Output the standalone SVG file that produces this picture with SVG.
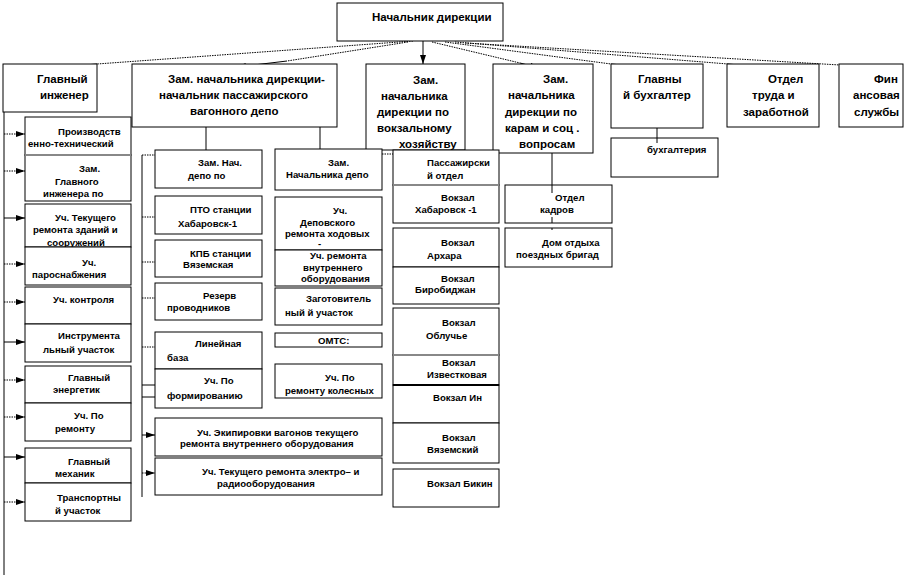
<svg xmlns="http://www.w3.org/2000/svg" width="912" height="575" viewBox="0 0 912 575">
<style>
.b{fill:#fff;stroke:#000;stroke-width:1}
.t{font-family:"Liberation Sans",Arial,sans-serif;font-weight:bold;font-size:9.6px;fill:#000}
.T{font-size:11.5px}
.s{stroke:#000;stroke-width:1;fill:none}
.d{stroke:#000;stroke-width:1;fill:none;stroke-dasharray:1.5,1}
.g{stroke:#888;stroke-width:2}
</style>
<defs>
<marker id="ah" markerUnits="userSpaceOnUse" markerWidth="9" markerHeight="6" refX="9" refY="3" orient="auto">
<path d="M0,0 L9,3 L0,6 z" fill="#000"/>
</marker>
<clipPath id="cC"><rect x="25" y="204" width="106" height="43"/></clipPath>
<clipPath id="cV"><rect x="275" y="250" width="107" height="36"/></clipPath>
<clipPath id="cD"><rect x="275" y="197" width="107" height="53"/></clipPath>
<clipPath id="cZ"><rect x="366" y="64" width="99" height="86"/></clipPath>
</defs>
<rect width="912" height="575" fill="#fff"/>

<g id="connectors">
<path class="d" d="M413,41 L97,64"/><path class="s" d="M97,64 L47,68" marker-end="url(#ah)"/>
<path class="d" d="M408,42 L287,61"/><path class="s" d="M287,61 L237,67" marker-end="url(#ah)"/>
<path class="s" d="M423,41 L423,64" marker-end="url(#ah)"/>
<path class="d" d="M432,42 L520,63"/><path class="s" d="M520,63 L539,68" marker-end="url(#ah)"/>
<path class="d" d="M445,42 L611,64"/><path class="s" d="M611,64 L656,68" marker-end="url(#ah)"/>
<path class="d" d="M455,42 L728,64"/><path class="s" d="M728,64 L773,68" marker-end="url(#ah)"/>
<path class="d" d="M465,43 L840,65"/><path class="s" d="M840,65 L874,69" marker-end="url(#ah)"/>
<path class="s" d="M4,112 V575"/>
<path class="d" d="M4,134 H25" marker-end="url(#ah)"/>
<path class="d" d="M4,171 H25" marker-end="url(#ah)"/>
<path class="s" d="M4,218 H25" marker-end="url(#ah)"/>
<path class="d" d="M4,264 H25" marker-end="url(#ah)"/>
<path class="d" d="M4,302 H25" marker-end="url(#ah)"/>
<path class="s" d="M4,342 H25" marker-end="url(#ah)"/>
<path class="d" d="M4,380 H25" marker-end="url(#ah)"/>
<path class="d" d="M4,417 H25" marker-end="url(#ah)"/>
<path class="s" d="M4,457 H25" marker-end="url(#ah)"/>
<path class="d" d="M4,502 H25" marker-end="url(#ah)"/>
<path class="s" d="M142,155 V497"/>
<path class="d" d="M142,155 H155"/>
<path class="d" d="M142,217 H155"/>
<path class="d" d="M142,262 H155"/>
<path class="d" d="M142,298 H155"/>
<path class="d" d="M142,347 H155"/>
<path class="s" d="M142,385 H155"/>
<path class="s" d="M142,397 H155"/>
<path class="s" d="M142,435 H155" marker-end="url(#ah)"/>
<path class="d" d="M142,473 H155" marker-end="url(#ah)"/>
<path class="s" d="M206,117 V155"/>
<path class="s" d="M320,117 V155"/>
<path class="d" d="M382,154 H393"/>
<path class="s" d="M434,138 V150"/>
<path class="s" d="M552,107 V193"/>
<path class="s" d="M657,117 V143"/>
</g>

<g id="n-top"><rect class="b" x="337" y="3" width="166" height="38"/><text class="t T" x="372" y="21">Начальник дирекции</text></g>
<g id="n-gi"><rect class="b" x="3" y="64" width="94" height="48"/><text class="t T" x="37" y="83">Главный</text><text class="t T" x="40" y="99">инженер</text></g>
<g id="n-zd"><rect class="b" x="132" y="64" width="205" height="63"/><text class="t T" x="168" y="83">Зам. начальника дирекции-</text><text class="t T" x="159" y="99">начальник пассажирского</text><text class="t T" x="190" y="115">вагонного депо</text></g>
<g id="n-zv"><rect class="b" x="366" y="64" width="99" height="86"/><g clip-path="url(#cZ)"><text class="t T" x="413" y="84">Зам.</text><text class="t T" x="381" y="100">начальника</text><text class="t T" x="377" y="116">дирекции по</text><text class="t T" x="377" y="132">вокзальному</text><text class="t T" x="399" y="148">хозяйству</text></g></g>
<g id="n-zk"><rect class="b" x="493" y="64" width="100" height="89"/><text class="t T" x="543" y="83">Зам.</text><text class="t T" x="508" y="99">начальника</text><text class="t T" x="505" y="116">дирекции  по</text><text class="t T" x="505" y="132">карам и соц .</text><text class="t T" x="519" y="148">вопросам</text></g>
<g id="n-gb"><rect class="b" x="611" y="64" width="92" height="64"/><text class="t T" x="638" y="83">Главны</text><text class="t T" x="623" y="99">й бухгалтер</text></g>
<g id="n-ot"><rect class="b" x="727" y="64" width="92" height="63"/><text class="t T" x="768" y="83">Отдел</text><text class="t T" x="752" y="99">труда и</text><text class="t T" x="743" y="116">заработной</text></g>
<g id="n-fin"><rect class="b" x="839" y="64" width="64" height="63"/><text class="t T" x="874" y="83">Фин</text><text class="t T" x="853" y="99">ансовая</text><text class="t T" x="854" y="116">службы</text></g>

<g id="n-a"><rect class="b" x="25" y="117" width="106" height="38"/><text class="t" x="58" y="134.5">Производств</text><text class="t" x="28" y="146.5">енно-технический</text></g>
<g id="n-b"><rect class="b" x="25" y="155" width="106" height="46"/><line class="g" x1="25" y1="155" x2="131" y2="155"/><text class="t" x="79" y="171.5">Зам.</text><text class="t" x="55" y="184.5">Главного</text><text class="t" x="43" y="196.5">инженера по</text></g>
<g id="n-c"><rect class="b" x="25" y="204" width="106" height="43"/><g clip-path="url(#cC)"><text class="t" x="55" y="220.5">Уч. Текущего</text><text class="t" x="33" y="232.5">ремонта зданий и</text><text class="t" x="47" y="245.5">сооружений</text></g></g>
<g id="n-d"><rect class="b" x="25" y="247" width="106" height="38"/><text class="t" x="82" y="265.5">Уч.</text><text class="t" x="32" y="277.5">пароснабжения</text></g>
<g id="n-e"><rect class="b" x="25" y="287" width="106" height="37"/><text class="t" x="53" y="302.5">Уч. контроля</text></g>
<g id="n-f"><rect class="b" x="25" y="324" width="106" height="38"/><text class="t" x="58" y="338.5">Инструмента</text><text class="t" x="43" y="352.5">льный участок</text></g>
<g id="n-g"><rect class="b" x="25" y="366" width="106" height="37"/><text class="t" x="68" y="380.5">Главный</text><text class="t" x="53" y="392.5">энергетик</text></g>
<g id="n-h"><rect class="b" x="25" y="403" width="106" height="38"/><text class="t" x="74" y="418.5">Уч. По</text><text class="t" x="55" y="431.5">ремонту</text></g>
<g id="n-i"><rect class="b" x="25" y="448" width="106" height="35"/><text class="t" x="68" y="464.5">Главный</text><text class="t" x="55" y="476.5">механик</text></g>
<g id="n-j"><rect class="b" x="25" y="483" width="106" height="38"/><text class="t" x="57" y="500.5">Транспортны</text><text class="t" x="55" y="513.5">й участок</text></g>

<g id="n-zn"><rect class="b" x="155" y="150" width="107" height="38"/><text class="t" x="198" y="165.5">Зам. Нач.</text><text class="t" x="188" y="178.5">депо по</text></g>
<g id="n-pto"><rect class="b" x="155" y="196" width="107" height="38"/><text class="t" x="190" y="212.5">ПТО станции</text><text class="t" x="178" y="226.5">Хабаровск-1</text></g>
<g id="n-kpb"><rect class="b" x="155" y="240" width="107" height="37"/><text class="t" x="190" y="256.5">КПБ станции</text><text class="t" x="183" y="267.5">Вяземская</text></g>
<g id="n-rez"><rect class="b" x="155" y="283" width="107" height="37"/><text class="t" x="203" y="298.5">Резерв</text><text class="t" x="167" y="310.5">проводников</text></g>
<g id="n-lin"><rect class="b" x="155" y="332" width="107" height="37"/><text class="t" x="195" y="346.5">Линейная</text><text class="t" x="167" y="360.5">база</text></g>
<g id="n-form"><rect class="b" x="155" y="369" width="107" height="39"/><text class="t" x="204" y="383.5">Уч. По</text><text class="t" x="167" y="398.5">формированию</text></g>
<g id="n-ek"><rect class="b" x="155" y="418" width="227" height="38"/><text class="t" x="197" y="435.5">Уч. Экипировки вагонов  текущего</text><text class="t" x="180" y="446.5">ремонта внутреннего  оборудования</text></g>
<g id="n-el"><rect class="b" x="155" y="458" width="227" height="37"/><text class="t" x="202" y="474.5">Уч. Текущего ремонта электро– и</text><text class="t" x="217" y="486.5">радиооборудования</text></g>

<g id="n-znd"><rect class="b" x="275" y="149" width="107" height="41"/><text class="t" x="328" y="165.5">Зам.</text><text class="t" x="286" y="177.5">Начальника депо</text></g>
<g id="n-dep"><rect class="b" x="275" y="197" width="107" height="53"/><g clip-path="url(#cD)"><text class="t" x="333" y="213.5">Уч.</text><text class="t" x="300" y="225.5">Деповского</text><text class="t" x="285" y="236.5">ремонта  ходовых</text><text class="t" x="318" y="247">-</text></g></g>
<g id="n-vn"><rect class="b" x="275" y="250" width="107" height="36"/><g clip-path="url(#cV)"><text class="t" x="310" y="259">Уч. ремонта</text><text class="t" x="303" y="270.5">внутреннего</text><text class="t" x="301" y="281.5">оборудования</text></g></g>
<g id="n-zag"><rect class="b" x="275" y="288" width="107" height="37"/><text class="t" x="306" y="301.5">Заготовитель</text><text class="t" x="285" y="315.5">ный й участок</text></g>
<g id="n-omts"><rect class="b" x="275" y="333" width="107" height="14"/><text class="t" x="318" y="343.5">ОМТС:</text></g>
<g id="n-kol"><rect class="b" x="275" y="364" width="107" height="34"/><text class="t" x="325" y="380.5">Уч. По</text><text class="t" x="285" y="393.5">ремонту колесных</text></g>

<g id="n-pas"><rect class="b" x="393" y="150" width="106" height="35"/><text class="t" x="427" y="165.5">Пассажирски</text><text class="t" x="427" y="178.5">й отдел</text></g>
<g id="n-hab"><rect class="b" x="393" y="185" width="106" height="38"/><line class="g" x1="393" y1="185" x2="499" y2="185"/><text class="t" x="441" y="200.5">Вокзал</text><text class="t" x="415" y="212.5">Хабаровск -1</text></g>
<g id="n-arh"><rect class="b" x="393" y="228" width="106" height="39"/><text class="t" x="441" y="245.5">Вокзал</text><text class="t" x="427" y="258.5">Архара</text></g>
<g id="n-bir"><rect class="b" x="393" y="267" width="106" height="37"/><text class="t" x="441" y="281.5">Вокзал</text><text class="t" x="415" y="292.5">Биробиджан</text></g>
<g id="n-obl"><rect class="b" x="393" y="308" width="106" height="47"/><text class="t" x="442" y="325.5">Вокзал</text><text class="t" x="426" y="338.5">Облучье</text></g>
<g id="n-izv"><rect class="b" x="393" y="355" width="106" height="30"/><line class="g" x1="393" y1="355" x2="499" y2="355"/><text class="t" x="442" y="366">Вокзал</text><text class="t" x="427" y="378">Известковая</text></g>
<g id="n-in"><rect class="b" x="393" y="385" width="106" height="38"/><line x1="393" y1="385" x2="499" y2="385" stroke="#000" stroke-width="2"/><text class="t" x="433" y="400.5">Вокзал Ин</text></g>
<g id="n-vyaz"><rect class="b" x="393" y="423" width="106" height="40"/><text class="t" x="442" y="440.5">Вокзал</text><text class="t" x="427" y="452.5">Вяземский</text></g>
<g id="n-bik"><rect class="b" x="393" y="469" width="106" height="38"/><text class="t" x="427" y="486.5">Вокзал Бикин</text></g>

<g id="n-kad"><rect class="b" x="505" y="185" width="107" height="38"/><path class="s" d="M552,185 V193"/><text class="t" x="555" y="200.5">Отдел</text><text class="t" x="540" y="212.5">кадров</text><path class="s" d="M552,217 V223"/></g>
<g id="n-dom"><rect class="b" x="505" y="228" width="107" height="39"/><path class="s" d="M552,228 V230"/><text class="t" x="542" y="245.5">Дом отдыха</text><text class="t" x="516" y="257.5">поездных бригад</text></g>
<g id="n-buh"><rect class="b" x="611" y="138" width="107" height="39"/><path class="s" d="M657,138 V143"/><text class="t" x="647" y="152.5">бухгалтерия</text></g>
</svg>
